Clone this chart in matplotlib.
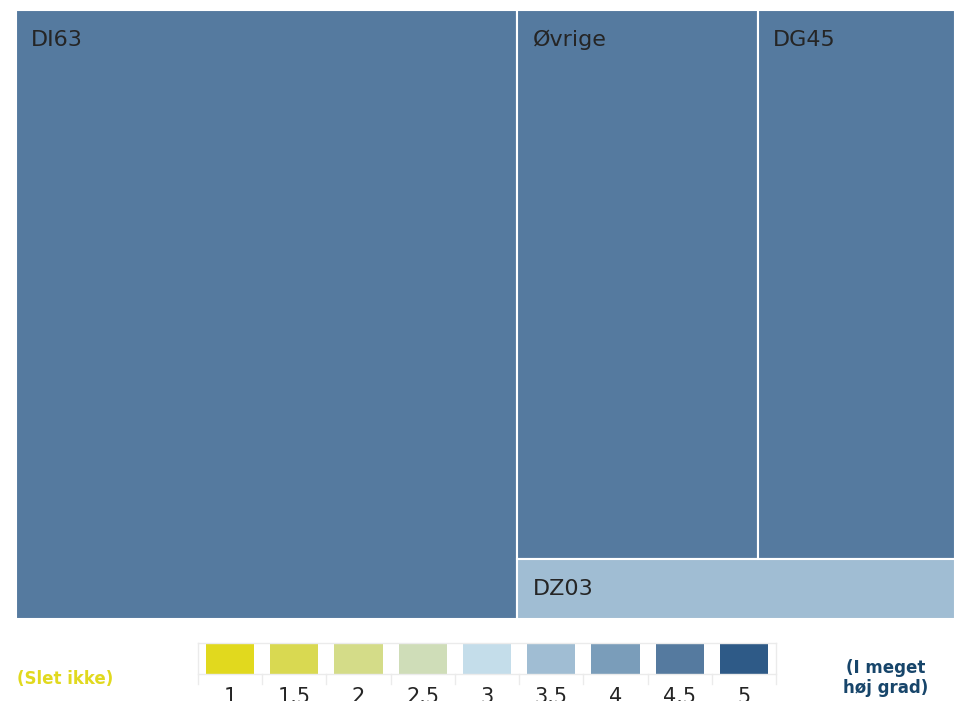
import matplotlib
matplotlib.use("Agg")
import matplotlib.pyplot as plt
from matplotlib.patches import Rectangle

# ---- data ----
categories = ["DI63", "Øvrige", "DG45", "DZ03"]
sizes = [53.4, 23.1, 18.9, 4.6]
scores = [4.5, 4.5, 4.5, 3.5]

legend_levels = [1, 1.5, 2, 2.5, 3, 3.5, 4, 4.5, 5]
legend_labels = ["1", "1.5", "2", "2.5", "3", "3.5", "4", "4.5", "5"]
legend_colors = ["#E1D91E", "#D9D951", "#D4DC88", "#CFDDB8", "#C4DDEA",
                 "#A0BDD3", "#7A9DBA", "#557A9F", "#2E5A87"]
low_label = "(Slet ikke)"
high_label = "(I meget\nhøj grad)"

color_of = dict(zip(legend_levels, legend_colors))

W, H = 955, 701
fig = plt.figure(figsize=(W / 100, H / 100), dpi=100)
fig.patch.set_facecolor("white")

# ---- treemap ----
ax = fig.add_axes([16 / W, 1 - 619 / H, 939 / W, 609 / H])
ax.set_xlim(0, 1)
ax.set_ylim(0, 1)
ax.axis("off")


def layout(vals):
    """First item as a full-height column, last item as a bottom strip of
    the remaining area, the others side by side above it."""
    total = sum(vals)
    rects = []
    w0 = vals[0] / total
    rects.append((0, 0, w0, 1))
    rest = vals[1:]
    rest_total = sum(rest)
    h_last = rest[-1] / rest_total
    top = rest[:-1]
    top_total = sum(top)
    x = w0
    for v in top:
        w = (1 - w0) * v / top_total
        rects.append((x, h_last, w, 1 - h_last))
        x += w
    rects.append((w0, 0, 1 - w0, h_last))
    return rects


for name, score, (x, y, w, h) in zip(categories, scores, layout(sizes)):
    ax.add_patch(Rectangle((x, y), w, h, facecolor=color_of[score],
                           edgecolor="white", linewidth=1.5))
    ax.annotate(name, xy=(x, y + h), xytext=(15, -36),
                textcoords="offset pixels", ha="left", va="baseline",
                fontsize=16, color="#252525", family="DejaVu Sans")

# ---- legend ----
lx0, lx1, ly0, ly1 = 198, 776, 643, 684
lax = fig.add_axes([lx0 / W, 1 - ly1 / H, (lx1 - lx0) / W, (ly1 - ly0) / H])
n = len(legend_levels)
lax.set_xlim(0, n)
lax.set_ylim(0, 1)
lax.axis("off")
box_bottom = (ly1 - 674) / (ly1 - ly0)
grid_c = "#EBEBEB"
for i, (lab, col) in enumerate(zip(legend_labels, legend_colors)):
    lax.add_patch(Rectangle((i + 0.125, box_bottom), 0.75, 1 - box_bottom,
                            facecolor=col, edgecolor="none"))
    lax.text(i + 0.5, (ly1 - 703) / (ly1 - ly0), lab, ha="center",
             va="baseline", fontsize=15, color="#252525", clip_on=False)
for i in range(n + 1):
    top_y = 1 if i in (0, n) else box_bottom
    lax.plot([i, i], [0, top_y], color=grid_c, lw=1, clip_on=False)
lax.plot([0, n], [1, 1], color=grid_c, lw=1, clip_on=False)
lax.plot([0, n], [box_bottom, box_bottom], color=grid_c, lw=1, clip_on=False)

fig.text(65 / W, 1 - 679 / H, low_label, ha="center", va="center",
         fontsize=12, fontweight="bold", color="#E1D91E")
fig.text(886 / W, 1 - 678 / H, high_label, ha="center", va="center",
         fontsize=12, fontweight="bold", color="#17456A", linespacing=1.1)

fig.savefig("out.png", dpi=100, facecolor="white")
